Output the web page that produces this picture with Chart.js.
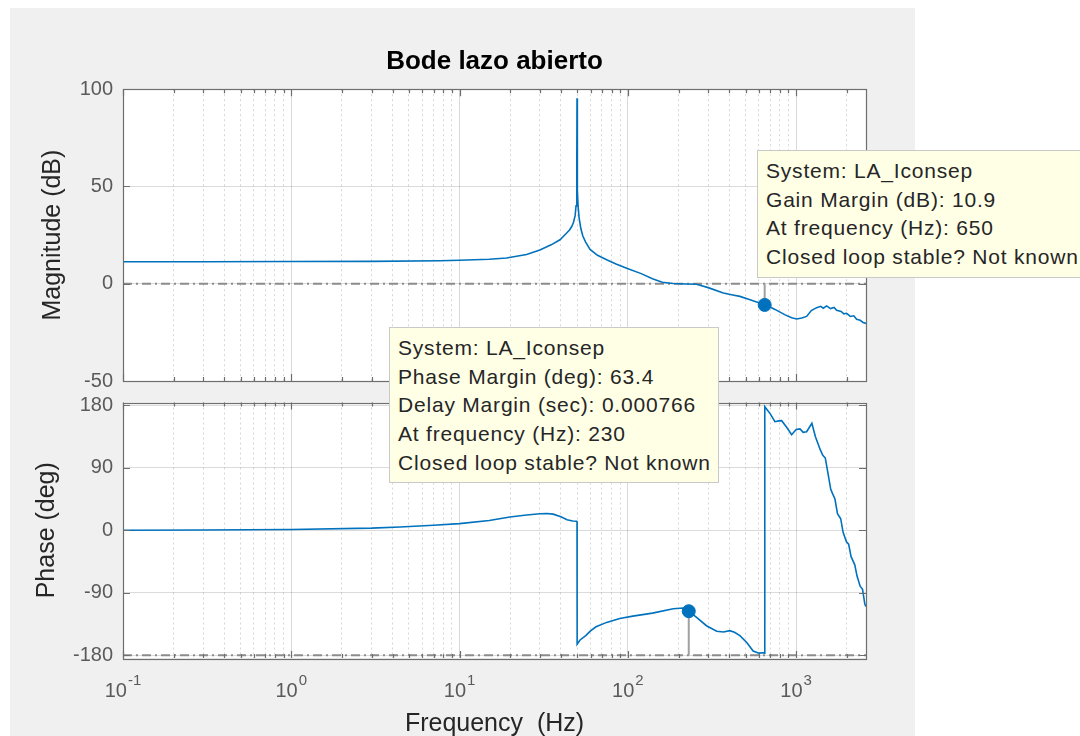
<!DOCTYPE html>
<html>
<head>
<meta charset="utf-8">
<title>Bode lazo abierto</title>
<script src="https://cdn.jsdelivr.net/npm/chart.js@4.4.1/dist/chart.umd.min.js"></script>
<style>
  body { margin: 0; width: 1080px; height: 736px; overflow: hidden; position: relative; background: #fff; }
  #fig { position: absolute; left: 10px; top: 8px; width: 905px; height: 728px; background: #f0f0f0; }
  canvas { position: absolute; left: 0; }
  #magCanvas { top: 0; }
  #phaseCanvas { top: 395px; }
  .tip {
    position: absolute; z-index: 5; box-sizing: border-box;
    background: #ffffe6; border: 1px solid #c9c9c9;
    font-family: "Liberation Sans", Arial, sans-serif; font-size: 21px; letter-spacing: 0.8px;
    line-height: 28.7px; color: #262626; white-space: nowrap;
    padding: 6px 8px 0 8px;
  }
  #tipGain { left: 757px; top: 150px; width: 340px; height: 128px; }
  #tipPhase { left: 389px; top: 327px; width: 330px; height: 156px; }
</style>
</head>
<body>
<div id="fig"></div>
<canvas id="magCanvas" width="1080" height="395"></canvas>
<canvas id="phaseCanvas" width="1080" height="341"></canvas>
<div class="tip" id="tipGain">System: LA_Iconsep<br>Gain Margin (dB): 10.9<br>At frequency (Hz): 650<br>Closed loop stable? Not known</div>
<div class="tip" id="tipPhase">System: LA_Iconsep<br>Phase Margin (deg): 63.4<br>Delay Margin (sec): 0.000766<br>At frequency (Hz): 230<br>Closed loop stable? Not known</div>
<script>
/* --- Data ------------------------------------------------- */
const F_MIN = 0.1;
const F_MAX = 2600;

const DECADES = [0.1, 1, 10, 100, 1000];
const DECADE_EXP = ['-1', '0', '1', '2', '3'];

const MAG_TICKS = [100, 50, 0, -50];
const PHASE_TICKS = [180, 90, 0, -90, -180];

const MAG_FREQ = [0.1, 0.3, 1, 3, 7.65, 10, 15, 19, 25, 30, 35, 39.5, 43, 45, 46.4,
  47.5, 48.6, 49.2, 49.6, 49.8, 49.87, 50.0, 50.2, 50.6, 51.3, 52.5, 54, 56, 59.6, 66,
  74.8, 85, 98.4, 120, 140, 160, 186, 220, 256, 300, 369, 420, 463, 532, 600,
  650, 700, 748, 802, 860, 940, 1007, 1080, 1154, 1230, 1324, 1400, 1450, 1517, 1600,
  1680, 1739, 1850, 1920, 1995, 2100, 2200, 2287, 2400, 2500, 2600];
const MAG_DB = [11.3, 11.3, 11.4, 11.5, 11.8, 12.1, 12.6, 13.2, 15.0, 17.4, 20.0, 22.6, 25.8, 27.6, 29.4,
  31.5, 35, 40, 48, 60, 95.4, 60, 48, 40, 34, 28.5, 24.5, 21.5, 17.6, 14.6,
  12.3, 10.2, 8.0, 5.2, 2.6, 0.8, 0.1, -0.1, -0.3, -2.0, -4.8, -5.8, -6.5, -8.2, -9.8,
  -10.9, -12.0, -13.2, -14.6, -16.0, -17.5, -18.1, -17.6, -16.8, -13.8, -12.3, -11.6, -12.6, -11.4, -12.8,
  -12.2, -13.6, -14.2, -15.5, -15.2, -16.8, -16.5, -18.3, -18.8, -19.9, -20.4];

const PH_FREQ = [0.1, 0.3, 1, 3, 4.43, 7, 10, 15, 19.9, 25, 30, 33, 36, 40, 43.5,
  47, 49.6, 49.87, 49.95, 52, 56.2, 60, 64.7, 74.8, 89.5, 107, 140, 186, 213, 230,
  256, 293, 337, 370, 403, 430, 463, 510, 555, 600, 638, 650, 651, 700, 748,
  790, 820, 880, 940, 1000, 1054, 1100, 1154, 1240, 1300, 1390, 1440, 1490, 1550, 1605,
  1650, 1700, 1760, 1840, 1900, 1990, 2050, 2120, 2230, 2300, 2400, 2480, 2560, 2600];
const PH_DEG = [0.1, 0.3, 1.0, 3.0, 4.7, 7.2, 9.5, 14, 19, 22, 23.7, 24.2, 23.2, 19.5, 15,
  13.3, 13.0, 12.5, -164, -158, -151.7, -145, -139, -132.7, -127, -123.7, -119.4, -113, -112, -116.6,
  -125.6, -137.5, -145.5, -146.5, -144.6, -147, -151.7, -162, -174, -177, -176.5, -177, 178, 168, 156.4,
  157.5, 157.8, 148, 137.5, 145, 146, 141, 142, 154, 135, 116, 108, 104, 80, 59,
  52, 45, 24, 16.6, -3, -16.6, -20, -38, -49.8, -66, -80.6, -85, -106.6, -110];

const GM_FREQ = 650, GM_DB = -10.9;      // gain margin marker
const PM_FREQ = 230, PM_DEG = -116.6;    // phase margin marker

/* --- Styles ----------------------------------------------- */
const FONT = '"Liberation Sans", Arial, sans-serif';
const BLUE = '#0072BD';
const REF_GRAY = '#8c8c8c';
const FRAME = '#6e6e6e';
const TICK_COLOR = '#5a5a5a';
const LABEL_COLOR = '#262626';

const isDecade = v => Math.abs(Math.log10(v) - Math.round(Math.log10(v))) < 1e-6;

// minor/major log ticks from the decade list
const X_TICKS = [];
for (const d of DECADES) {
  for (let m = 1; m <= 9; m++) {
    const v = +(m * d).toPrecision(6);
    if (v <= F_MAX) X_TICKS.push(v);
  }
}

const toPts = (xs, ys) => xs.map((x, i) => ({ x, y: ys[i] }));

/* --- Plugins ---------------------------------------------- */
const axesFrame = {
  id: 'axesFrame',
  beforeDraw(chart) {
    const { ctx, chartArea: a } = chart;
    ctx.save();
    ctx.fillStyle = '#fff';
    ctx.fillRect(a.left, a.top, a.width, a.height);
    ctx.restore();
  },
  afterDraw(chart) {
    const { ctx, chartArea: a, scales: { x, y } } = chart;
    ctx.save();
    ctx.strokeStyle = FRAME;
    ctx.lineWidth = 1.2;
    ctx.beginPath();
    x.ticks.forEach(t => {
      const px = Math.round(x.getPixelForValue(t.value)) + 0.5;
      const len = isDecade(t.value) ? 7 : 4;
      ctx.moveTo(px, a.top); ctx.lineTo(px, a.top + len);
      ctx.moveTo(px, a.bottom); ctx.lineTo(px, a.bottom - len);
    });
    y.ticks.forEach(t => {
      const py = Math.round(y.getPixelForValue(t.value)) + 0.5;
      ctx.moveTo(a.left, py); ctx.lineTo(a.left + 7, py);
      ctx.moveTo(a.right, py); ctx.lineTo(a.right - 7, py);
    });
    ctx.stroke();
    ctx.strokeRect(Math.round(a.left) + 0.5, Math.round(a.top) + 0.5, Math.round(a.width), Math.round(a.height));
    ctx.restore();
  }
};

const decadeLabels = {
  id: 'decadeLabels',
  afterDraw(chart) {
    const { ctx, chartArea: a, scales: { x } } = chart;
    const base = a.bottom + 39;
    ctx.save();
    ctx.fillStyle = TICK_COLOR;
    ctx.textBaseline = 'alphabetic';
    ctx.textAlign = 'left';
    DECADES.forEach((v, i) => {
      const px = x.getPixelForValue(v);
      ctx.font = '20px ' + FONT;
      const wBase = ctx.measureText('10').width;
      ctx.font = '15px ' + FONT;
      const wExp = ctx.measureText(DECADE_EXP[i]).width;
      const x0 = px - (wBase + wExp + 1) / 2;
      ctx.font = '20px ' + FONT;
      ctx.fillText('10', x0, base);
      ctx.font = '15px ' + FONT;
      ctx.fillText(DECADE_EXP[i], x0 + wBase + 1, base - 12);
    });
    ctx.restore();
  }
};

/* --- Shared axis options ---------------------------------- */
function xAxis(height, title) {
  return {
    type: 'logarithmic',
    min: F_MIN,
    max: F_MAX,
    afterBuildTicks: s => { s.ticks = X_TICKS.map(v => ({ value: v })); },
    afterFit: s => { s.height = height; s.paddingLeft = 0; s.paddingRight = 0; },
    ticks: { display: false },
    grid: {
      drawTicks: false,
      color: ctx => (ctx.tick && isDecade(ctx.tick.value)) ? 'rgba(0,0,0,0.15)' : 'rgba(0,0,0,0.16)',
      lineWidth: 1,
    },
    border: { display: false, dash: ctx => (ctx.tick && !isDecade(ctx.tick.value)) ? [2, 3] : [] },
    title: title
      ? { display: true, text: title, color: LABEL_COLOR, font: { family: FONT, size: 25 }, padding: { top: 0, bottom: -3 } }
      : { display: false },
  };
}

function yAxis(min, max, ticks, title, titlePad) {
  return {
    min, max,
    afterBuildTicks: s => { s.ticks = ticks.map(v => ({ value: v })); },
    // fixed gutter; label overflow must not push the plot box
    afterFit: s => { s.width = 123; s.paddingTop = 0; s.paddingBottom = 0; },
    ticks: { color: TICK_COLOR, padding: 10, font: { family: FONT, size: 20 } },
    grid: { drawTicks: false, color: 'rgba(0,0,0,0.14)', lineWidth: 1 },
    border: { display: false },
    title: { display: true, text: title, color: LABEL_COLOR, font: { family: FONT, size: 25 }, padding: { top: titlePad, bottom: 0 } },
  };
}

const baseOptions = {
  responsive: false,
  animation: false,
  events: [],
  plugins: { legend: { display: false }, tooltip: { enabled: false } },
};

/* --- Magnitude -------------------------------------------- */
new Chart(document.getElementById('magCanvas'), {
  type: 'line',
  data: {
    datasets: [
      { data: [{ x: GM_FREQ, y: GM_DB }], showLine: false, pointRadius: 6.5, pointBackgroundColor: BLUE, pointBorderColor: BLUE, order: 0 },
      { data: toPts(MAG_FREQ, MAG_DB), borderColor: BLUE, borderWidth: 1.6, pointRadius: 0, tension: 0, order: 1 },
      { data: [{ x: GM_FREQ, y: 0 }, { x: GM_FREQ, y: GM_DB }], borderColor: '#a0a0a0', borderWidth: 2, pointRadius: 0, order: 2 },
      { data: [{ x: F_MIN, y: 0 }, { x: F_MAX, y: 0 }], borderColor: REF_GRAY, borderWidth: 2, borderDash: [9, 4, 2, 4], pointRadius: 0, order: 3 },
    ]
  },
  options: {
    ...baseOptions,
    layout: { padding: { left: 0, right: 214, top: 8, bottom: 14 } },
    plugins: {
      ...baseOptions.plugins,
      title: {
        display: true, text: 'Bode lazo abierto', fullSize: false, color: '#000',
        font: { family: FONT, size: 26, weight: 'bold' }, padding: { top: 38, bottom: 12 }
      },
    },
    scales: {
      x: xAxis(0, null),
      y: yAxis(-50, 100, MAG_TICKS, 'Magnitude (dB)', 38),
    }
  },
  plugins: [axesFrame]
});

/* --- Phase ------------------------------------------------ */
new Chart(document.getElementById('phaseCanvas'), {
  type: 'line',
  data: {
    datasets: [
      { data: [{ x: PM_FREQ, y: PM_DEG }], showLine: false, pointRadius: 6.5, pointBackgroundColor: BLUE, pointBorderColor: BLUE, order: 0 },
      { data: toPts(PH_FREQ, PH_DEG), borderColor: BLUE, borderWidth: 1.6, pointRadius: 0, tension: 0, order: 1 },
      { data: [{ x: PM_FREQ, y: -180 }, { x: PM_FREQ, y: PM_DEG }], borderColor: '#a0a0a0', borderWidth: 2, pointRadius: 0, order: 2 },
      { data: [{ x: F_MIN, y: -180 }, { x: F_MAX, y: -180 }], borderColor: REF_GRAY, borderWidth: 2, borderDash: [9, 4, 2, 4], pointRadius: 0, order: 3 },
    ]
  },
  options: {
    ...baseOptions,
    layout: { padding: { left: 0, right: 214, top: 7, bottom: 0 } },
    scales: {
      x: xAxis(78, 'Frequency  (Hz)'),
      y: yAxis(-184, 184, PHASE_TICKS, 'Phase (deg)', 32),
    }
  },
  plugins: [axesFrame, decadeLabels]
});
</script>
</body>
</html>
